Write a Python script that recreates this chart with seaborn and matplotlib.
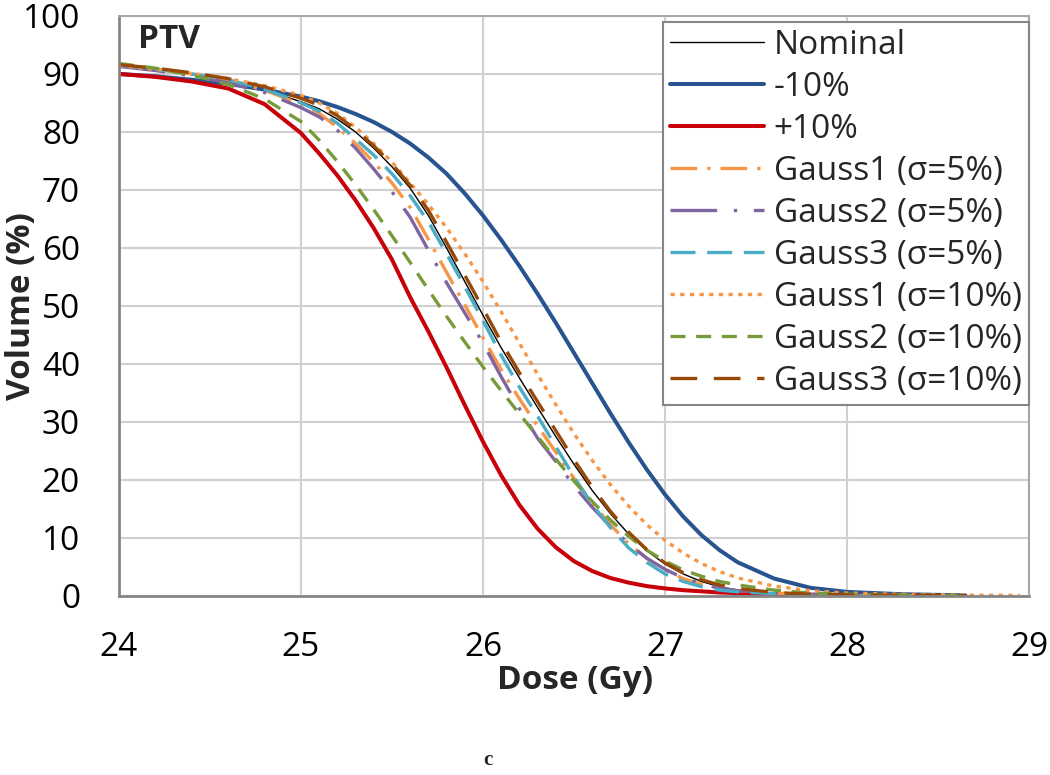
import numpy as np
import pandas as pd
import matplotlib
matplotlib.use("Agg")
import matplotlib.pyplot as plt
from matplotlib.ticker import MultipleLocator
import seaborn as sns

nan = np.nan
dose = [24.0, 24.2, 24.4, 24.6, 24.8,
        25.0, 25.1, 25.2, 25.3, 25.4, 25.5, 25.6, 25.7, 25.8, 25.9,
        26.0, 26.1, 26.2, 26.3, 26.4, 26.5, 26.6, 26.7, 26.8, 26.9,
        27.0, 27.1, 27.2, 27.3, 27.4,
        27.6, 27.8, 28.0, 28.3, 28.65, 28.95]

nominal = [91.3, 90.7, 89.9, 88.9, 87.3,
           85.2, 84.0, 82.2, 80.0, 77.2, 74.0, 70.3, 65.6, 60.0, 54.2,
           48.4, 42.8, 37.6, 32.5, 27.5, 22.7, 18.2, 14.2, 10.7, 7.8,
           5.5, 3.8, 2.5, 1.6, 1.0,
           0.5, 0.3, 0.2, 0.1, 0.0, nan]
minus10 = [90.0, 89.6, 89.0, 88.3, 87.3,
           86.1, 85.3, 84.3, 83.1, 81.7, 80.0, 78.0, 75.6, 72.8, 69.4,
           65.6, 61.4, 56.9, 52.1, 47.1, 41.9, 36.7, 31.5, 26.5, 21.8,
           17.5, 13.7, 10.5, 7.9, 5.8,
           3.0, 1.4, 0.7, 0.3, 0.1, nan]
plus10 = [90.0, 89.5, 88.7, 87.5, 84.8,
          79.8, 76.3, 72.5, 68.2, 63.4, 58.0, 51.5, 45.6, 39.4, 32.9,
          26.6, 20.8, 15.7, 11.6, 8.4, 6.0, 4.3, 3.1, 2.3, 1.7,
          1.3, 1.0, 0.8, 0.6, 0.5,
          0.3, 0.2, 0.1, 0.05, 0.0, nan]
gauss1_5 = [91.5, 90.8, 90.0, 88.9, 87.2,
            84.8, 83.2, 80.8, 78.0, 74.8, 71.2, 67.0, 61.5, 55.8, 50.2,
            44.5, 39.0, 34.0, 29.3, 24.8, 20.3, 16.0, 12.3, 9.0, 6.5,
            4.5, 3.0, 2.0, 1.3, 0.9,
            0.5, 0.3, 0.15, 0.1, 0.0, nan]
gauss2_5 = [91.3, 90.6, 89.7, 88.5, 86.8,
            84.2, 82.6, 80.3, 77.2, 73.6, 69.7, 65.3, 59.6, 54.0, 48.8,
            43.6, 37.8, 32.3, 27.2, 23.2, 19.0, 15.3, 12.0, 9.0, 6.5,
            4.6, 3.1, 2.1, 1.4, 0.9,
            0.5, 0.3, 0.15, 0.1, 0.0, nan]
gauss3_5 = [91.5, 90.8, 90.0, 89.0, 87.4,
            85.0, 83.6, 81.5, 78.8, 76.0, 72.8, 69.0, 64.5, 59.0, 53.3,
            47.5, 41.5, 36.0, 31.0, 25.8, 20.5, 15.8, 11.8, 8.3, 5.8,
            3.8, 2.5, 1.6, 1.0, 0.7,
            0.4, 0.2, 0.1, 0.05, 0.0, nan]
gauss1_10 = [91.4, 90.8, 90.1, 89.2, 88.0,
             86.3, 85.0, 83.2, 80.8, 78.0, 74.8, 71.2, 67.5, 63.5, 59.0,
             54.2, 49.0, 43.6, 38.2, 33.0, 28.0, 23.4, 19.2, 15.5, 12.3,
             9.6, 7.4, 5.6, 4.2, 3.1,
             1.7, 0.9, 0.5, 0.3, 0.15, 0.1]
gauss2_10 = [91.8, 91.0, 89.8, 88.2, 85.7,
             81.8, 78.6, 74.9, 70.9, 66.6, 62.1, 57.5, 52.8, 48.2, 43.8,
             39.5, 35.4, 31.4, 27.5, 23.6, 19.8, 16.3, 13.1, 10.3, 7.9,
             6.0, 4.5, 3.4, 2.5, 1.9,
             1.0, 0.5, 0.3, 0.15, 0.05, nan]
gauss3_10 = [91.6, 91.0, 90.2, 89.2, 87.8,
             85.8, 84.6, 82.8, 80.4, 77.6, 74.5, 70.8, 66.5, 61.0, 55.3,
             49.6, 43.8, 38.5, 33.5, 28.5, 23.5, 18.8, 14.6, 11.0, 8.0,
             5.7, 4.0, 2.8, 1.9, 1.3,
             0.6, 0.3, 0.2, 0.1, 0.05, nan]

series_names = ["Nominal", "-10%", "+10%",
                "Gauss1 (σ=5%)", "Gauss2 (σ=5%)", "Gauss3 (σ=5%)",
                "Gauss1 (σ=10%)", "Gauss2 (σ=10%)", "Gauss3 (σ=10%)"]
series_values = [nominal, minus10, plus10, gauss1_5, gauss2_5, gauss3_5,
                 gauss1_10, gauss2_10, gauss3_10]

x_ticks = [24, 25, 26, 27, 28, 29]
y_ticks = [0, 10, 20, 30, 40, 50, 60, 70, 80, 90, 100]

frames = []
for name, vals in zip(series_names, series_values):
    frames.append(pd.DataFrame({"dose": dose, "volume": vals, "series": name}))
df = pd.concat(frames, ignore_index=True).dropna()

colors = {
    "Nominal": "#000000",
    "-10%": "#27548f",
    "+10%": "#c8000a",
    "Gauss1 (σ=5%)": "#f79646",
    "Gauss2 (σ=5%)": "#8064a2",
    "Gauss3 (σ=5%)": "#4bacc6",
    "Gauss1 (σ=10%)": "#f79646",
    "Gauss2 (σ=10%)": "#779a3a",
    "Gauss3 (σ=10%)": "#984807",
}
dashes = {
    "Nominal": "",
    "-10%": "",
    "+10%": "",
    "Gauss1 (σ=5%)": (8, 3, 1, 3),
    "Gauss2 (σ=5%)": (14, 5, 1, 5),
    "Gauss3 (σ=5%)": (7.5, 3.5),
    "Gauss1 (σ=10%)": (1.3, 1.6),
    "Gauss2 (σ=10%)": (4.5, 3.2),
    "Gauss3 (σ=10%)": (8, 5),
}
widths = {
    "Nominal": 1.0,
    "-10%": 2.9,
    "+10%": 2.9,
    "Gauss1 (σ=5%)": 2.4,
    "Gauss2 (σ=5%)": 2.4,
    "Gauss3 (σ=5%)": 2.4,
    "Gauss1 (σ=10%)": 2.4,
    "Gauss2 (σ=10%)": 2.4,
    "Gauss3 (σ=10%)": 2.4,
}

sns.set_theme(style="white")
plt.rcParams["font.family"] = ["Open Sans", "DejaVu Sans"]

fig = plt.figure(figsize=(10.5, 7.75), dpi=100)
ax = fig.add_axes([0.1133, 0.2310, 0.8667, 0.7484])

sns.lineplot(data=df, x="dose", y="volume",
             hue="series", style="series", size="series",
             hue_order=series_names, style_order=series_names, size_order=series_names,
             palette=colors, dashes=dashes, sizes=widths,
             estimator=None, sort=False, legend=False, ax=ax)

ax.set_xlim(24, 29)
ax.set_ylim(0, 100)
ax.set_xticks(x_ticks)
ax.set_yticks(y_ticks)
ax.xaxis.set_minor_locator(MultipleLocator(0.2))
ax.yaxis.set_minor_locator(MultipleLocator(2))

ax.grid(True, which="major", color="#d0d0d0", linewidth=1.5)
ax.set_axisbelow(True)

axis_col = "#868686"
for s in ["left", "bottom"]:
    ax.spines[s].set_color(axis_col)
    ax.spines[s].set_linewidth(2)
for s in ["top", "right"]:
    ax.spines[s].set_color("#a8a8a8")
    ax.spines[s].set_linewidth(1.5)

ax.tick_params(axis="both", which="major", direction="inout", length=18,
               width=1.6, color=axis_col, labelsize=24, labelcolor="black")
ax.tick_params(axis="both", which="minor", direction="in", length=9,
               width=1.4, color=axis_col)
ax.tick_params(axis="y", which="major", pad=19)
ax.tick_params(axis="x", which="major", pad=16)

ax.set_xlabel("Dose (Gy)", fontsize=24, fontweight="bold")
ax.set_ylabel("Volume (%)", fontsize=24, fontweight="bold")
ax.xaxis.set_label_coords(0.501, -0.145)
ax.xaxis.label.set_va("center")
ax.yaxis.set_label_coords(-0.107, 0.5)
ax.yaxis.label.set_va("center")

ax.text(0.021, 0.959, "PTV", transform=ax.transAxes, fontsize=24,
        fontweight="bold", ha="left", va="center")

handles = ax.lines[:len(series_names)]
leg = ax.legend(handles, series_names, loc="upper right",
                bbox_to_anchor=(1.0, 0.99), borderaxespad=0.0,
                frameon=True, fancybox=False, framealpha=1.0,
                edgecolor="#868686", fontsize=24,
                handlelength=2.8, handletextpad=0.3,
                labelspacing=0.27, borderpad=0.22)
leg.get_frame().set_linewidth(1.5)

fig.text(488 / 1050, 1 - 760 / 775, "c", family=["Liberation Serif", "DejaVu Serif"],
         fontweight="bold", fontsize=15, ha="center", va="center")

fig.savefig("out.png", dpi=100)
